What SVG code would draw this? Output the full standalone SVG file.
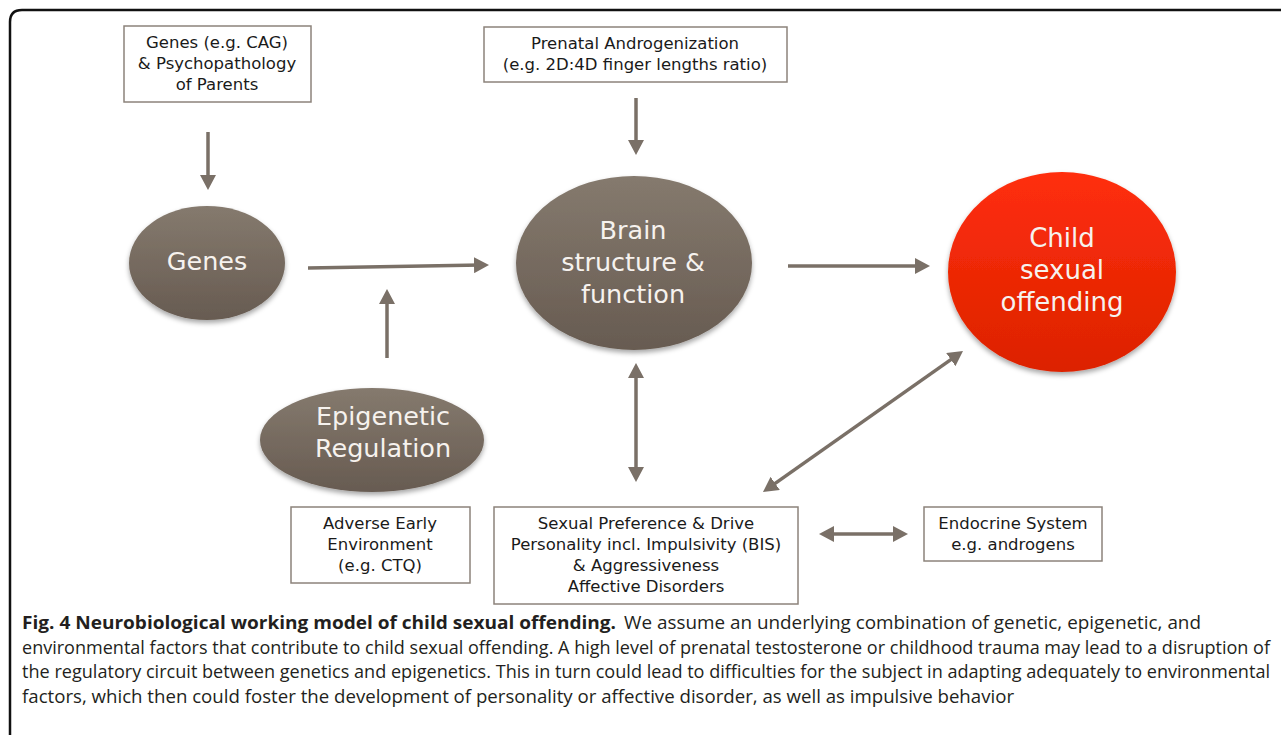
<svg xmlns="http://www.w3.org/2000/svg" width="1281" height="735" viewBox="0 0 1281 735">
<style>
.box{fill:#fff;stroke:#8c837b;stroke-width:1.5}
.bt{font-family:"DejaVu Sans",Verdana,sans-serif;font-size:16.5px;fill:#1a1a1a;text-anchor:middle}
.et{font-family:"DejaVu Sans",Verdana,sans-serif;font-size:25.5px;fill:#f6f2ee;text-anchor:middle}
.arr{stroke:#7a7067;stroke-width:3.5;fill:none;marker-end:url(#ah)}
.dbl{marker-start:url(#ah)}
.cap{font-family:"Open Sans","Noto Sans",sans-serif;font-size:17.5px;fill:#231f20}
.capb{font-weight:bold}
</style>
<defs>
<marker id="ah" viewBox="0 0 15 16" markerWidth="15" markerHeight="16" refX="7" refY="8" orient="auto-start-reverse" markerUnits="userSpaceOnUse" preserveAspectRatio="none">
<path d="M0,0 L15,8 L0,16 z" fill="#7a7067"/>
</marker>
<linearGradient id="brown" x1="0" y1="0" x2="0" y2="1">
<stop offset="0" stop-color="#857a6e"/>
<stop offset="1" stop-color="#675b51"/>
</linearGradient>
<linearGradient id="red" x1="0" y1="0" x2="0" y2="1">
<stop offset="0" stop-color="#ff2e0c"/>
<stop offset="1" stop-color="#dc2200"/>
</linearGradient>
<filter id="sh" x="-20%" y="-20%" width="140%" height="150%">
<feDropShadow dx="0" dy="3" stdDeviation="2.5" flood-color="#000" flood-opacity="0.35"/>
</filter>
</defs>

<path d="M10,740 L10,22 Q10,10 22,10 L1290,10" fill="none" stroke="#111" stroke-width="2.5"/>

<g id="genes-parents">
<rect class="box" x="124" y="26" width="187" height="76"/>
<text class="bt" x="217" y="48">Genes (e.g. CAG)</text>
<text class="bt" x="217" y="69">&amp; Psychopathology</text>
<text class="bt" x="217" y="90">of Parents</text>
</g>

<g id="prenatal">
<rect class="box" x="484" y="27" width="303" height="55"/>
<text class="bt" x="635" y="49">Prenatal Androgenization</text>
<text class="bt" x="635" y="70">(e.g. 2D:4D finger lengths ratio)</text>
</g>

<g id="genes">
<ellipse cx="207" cy="263" rx="78" ry="57" fill="url(#brown)" filter="url(#sh)"/>
<text class="et" x="207" y="270">Genes</text>
</g>

<g id="brain">
<ellipse cx="634" cy="263" rx="118" ry="87" fill="url(#brown)" filter="url(#sh)"/>
<text class="et" x="633" y="239">Brain</text>
<text class="et" x="633" y="271">structure &amp;</text>
<text class="et" x="633" y="303">function</text>
</g>

<g id="child">
<ellipse cx="1062" cy="272" rx="114" ry="100" fill="url(#red)" filter="url(#sh)"/>
<text class="et" x="1062" y="247" style="font-size:26px">Child</text>
<text class="et" x="1062" y="279" style="font-size:26px">sexual</text>
<text class="et" x="1062" y="311" style="font-size:26px">offending</text>
</g>

<g id="epigenetic">
<ellipse cx="372" cy="440" rx="112" ry="52" fill="url(#brown)" filter="url(#sh)"/>
<text class="et" x="383" y="425">Epigenetic</text>
<text class="et" x="383" y="457">Regulation</text>
</g>

<g id="adverse">
<rect class="box" x="291" y="507" width="179" height="76"/>
<text class="bt" x="380" y="529">Adverse Early</text>
<text class="bt" x="380" y="550">Environment</text>
<text class="bt" x="380" y="571">(e.g. CTQ)</text>
</g>

<g id="sexual">
<rect class="box" x="494" y="507" width="304" height="97"/>
<text class="bt" x="646" y="529">Sexual Preference &amp; Drive</text>
<text class="bt" x="646" y="550">Personality incl. Impulsivity (BIS)</text>
<text class="bt" x="646" y="571">&amp; Aggressiveness</text>
<text class="bt" x="646" y="592">Affective Disorders</text>
</g>

<g id="endocrine">
<rect class="box" x="924" y="507" width="178" height="54"/>
<text class="bt" x="1013" y="529">Endocrine System</text>
<text class="bt" x="1013" y="550">e.g. androgens</text>
</g>

<g id="connectors">
<line class="arr" x1="208" y1="132" x2="208" y2="182"/>
<line class="arr" x1="636" y1="98" x2="636" y2="147"/>
<line class="arr" x1="308" y1="268" x2="481" y2="265.1"/>
<line class="arr" x1="387" y1="358" x2="387" y2="297"/>
<line class="arr" x1="788" y1="266" x2="922" y2="266"/>
<line class="arr dbl" x1="636" y1="474" x2="636" y2="371"/>
<line class="arr dbl" x1="769.5" y1="487.4" x2="956.5" y2="355.6"/>
<line class="arr dbl" x1="827" y1="534" x2="900" y2="534"/>
</g>

<g id="caption">
<text class="cap capb" x="22" y="629" textLength="594" lengthAdjust="spacingAndGlyphs">Fig. 4 Neurobiological working model of child sexual offending.</text>
<text class="cap" x="624" y="629" textLength="577" lengthAdjust="spacingAndGlyphs">We assume an underlying combination of genetic, epigenetic, and</text>
<text class="cap" x="22" y="654" textLength="1248" lengthAdjust="spacingAndGlyphs">environmental factors that contribute to child sexual offending. A high level of prenatal testosterone or childhood trauma may lead to a disruption of</text>
<text class="cap" x="22" y="678" textLength="1248" lengthAdjust="spacingAndGlyphs">the regulatory circuit between genetics and epigenetics. This in turn could lead to difficulties for the subject in adapting adequately to environmental</text>
<text class="cap" x="22" y="703" textLength="992" lengthAdjust="spacingAndGlyphs">factors, which then could foster the development of personality or affective disorder, as well as impulsive behavior</text>
</g>
</svg>
